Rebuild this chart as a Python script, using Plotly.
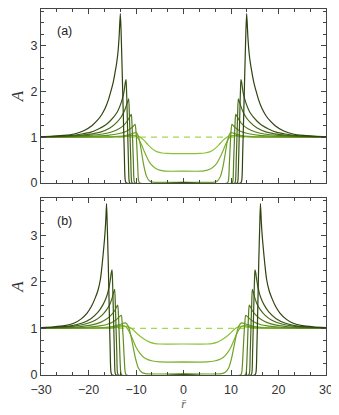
import plotly.graph_objects as go

# right half of each profile (r >= 0), mirrored to r < 0 when drawn
# panel (a)
a_r = [
    [0, 12.0, 12.25, 12.45, 12.7, 12.95, 13.15, 13.3, 13.55, 13.8, 14.1, 14.4, 14.8, 15.3, 15.8, 16.5, 17.3, 18.2, 19.3, 21.0, 23.0, 25.2, 28.0, 30],
    [0, 11.3, 11.45, 11.6, 11.75, 11.9, 12.0, 12.1, 12.25, 12.4, 12.6, 13.1, 14.0, 15.4, 16.5, 17.9, 19.5, 21.4, 24.0, 27.0, 30],
    [0, 10.8, 10.95, 11.1, 11.25, 11.4, 11.55, 11.75, 12.0, 12.5, 13.2, 14.0, 15.5, 17.5, 20.0, 23.0, 30],
    [0, 10.2, 10.4, 10.55, 10.7, 10.85, 11.0, 11.3, 11.8, 12.5, 13.5, 15.0, 17.0, 20.0, 24.0, 30],
    [0, 9.2, 9.45, 9.65, 9.85, 10.0, 10.2, 10.5, 11.0, 12.0, 13.5, 16.0, 20.0, 30],
    [0, 6.5, 7.2, 7.8, 8.3, 8.8, 9.2, 9.6, 10.0, 10.5, 11.3, 12.5, 14.5, 18.0, 30],
    [0, 4.0, 5.0, 6.0, 7.0, 7.7, 8.3, 8.9, 9.5, 10.0, 10.7, 11.5, 13.0, 16.0, 30],
    [0, 3.5, 4.5, 5.5, 6.5, 7.5, 8.3, 9.1, 9.8, 10.6, 11.5, 13.0, 16.0, 30],
]
a_A = [
    [0, 0, 0.05, 0.6, 1.6, 2.6, 3.35, 3.70, 3.2, 2.85, 2.6, 2.42, 2.2, 2.0, 1.82, 1.63, 1.48, 1.36, 1.25, 1.14, 1.07, 1.04, 1.02, 1.015],
    [0, 0, 0.05, 0.5, 1.1, 1.7, 2.05, 2.26, 2.2, 2.08, 1.95, 1.76, 1.54, 1.36, 1.26, 1.18, 1.11, 1.07, 1.035, 1.02, 1.012],
    [0, 0, 0.05, 0.5, 1.0, 1.5, 1.84, 1.78, 1.7, 1.56, 1.43, 1.33, 1.2, 1.11, 1.06, 1.03, 1.01],
    [0, 0, 0.05, 0.45, 0.9, 1.3, 1.5, 1.45, 1.36, 1.27, 1.19, 1.12, 1.07, 1.04, 1.02, 1.01],
    [0, 0, 0.05, 0.4, 0.85, 1.12, 1.28, 1.25, 1.2, 1.13, 1.08, 1.04, 1.02, 1.005],
    [0.02, 0.02, 0.05, 0.15, 0.35, 0.65, 0.9, 1.05, 1.1, 1.09, 1.06, 1.03, 1.015, 1.005, 1.0],
    [0.26, 0.26, 0.28, 0.33, 0.43, 0.56, 0.7, 0.85, 0.97, 1.02, 1.04, 1.03, 1.015, 1.005, 1.0],
    [0.64, 0.645, 0.655, 0.68, 0.74, 0.84, 0.93, 1.0, 1.03, 1.035, 1.025, 1.01, 1.0, 1.0],
]

# panel (b)
b_r = [
    [0, 15.0, 15.25, 15.45, 15.65, 15.85, 16.05, 16.2, 16.4, 16.6, 16.8, 17.1, 17.5, 18.0, 18.6, 19.4, 20.3, 21.6, 23.1, 25.0, 27.3, 30],
    [0, 14.2, 14.4, 14.55, 14.7, 14.85, 14.95, 15.05, 15.2, 15.4, 15.7, 16.2, 17.0, 18.0, 19.5, 21.5, 24.0, 27.0, 30],
    [0, 13.7, 13.9, 14.05, 14.2, 14.35, 14.5, 14.7, 15.0, 15.5, 16.2, 17.2, 18.5, 20.5, 23.0, 26.0, 30],
    [0, 13.0, 13.2, 13.4, 13.55, 13.7, 13.85, 14.1, 14.5, 15.2, 16.2, 17.5, 19.5, 22.0, 26.0, 30],
    [0, 12.0, 12.25, 12.5, 12.7, 12.9, 13.1, 13.4, 13.9, 14.7, 16.0, 18.0, 21.0, 30],
    [0, 8.0, 8.8, 9.5, 10.1, 10.7, 11.2, 11.7, 12.2, 12.7, 13.5, 15.0, 17.0, 20.0, 30],
    [0, 5.0, 6.5, 7.5, 8.4, 9.2, 9.9, 10.6, 11.2, 11.7, 12.2, 12.8, 13.5, 15.0, 18.0, 30],
    [0, 5.0, 6.0, 7.0, 8.0, 9.0, 9.8, 10.5, 11.1, 11.8, 12.6, 13.5, 15.0, 18.0, 30],
]
b_A = [
    [0, 0, 0.05, 0.6, 1.5, 2.45, 3.2, 3.68, 3.25, 2.95, 2.72, 2.4, 2.05, 1.82, 1.65, 1.47, 1.33, 1.2, 1.11, 1.06, 1.035, 1.02],
    [0, 0, 0.05, 0.5, 1.1, 1.7, 2.05, 2.26, 2.2, 2.05, 1.87, 1.68, 1.5, 1.35, 1.21, 1.11, 1.05, 1.025, 1.015],
    [0, 0, 0.05, 0.5, 1.0, 1.5, 1.84, 1.78, 1.66, 1.52, 1.4, 1.28, 1.18, 1.1, 1.05, 1.025, 1.01],
    [0, 0, 0.05, 0.45, 0.9, 1.3, 1.5, 1.46, 1.38, 1.29, 1.2, 1.13, 1.07, 1.035, 1.015, 1.01],
    [0, 0, 0.05, 0.4, 0.8, 1.1, 1.28, 1.26, 1.21, 1.15, 1.09, 1.05, 1.02, 1.005],
    [0.03, 0.03, 0.06, 0.15, 0.35, 0.65, 0.9, 1.06, 1.12, 1.11, 1.08, 1.04, 1.02, 1.01, 1.0],
    [0.28, 0.28, 0.3, 0.33, 0.38, 0.47, 0.58, 0.74, 0.88, 0.98, 1.04, 1.06, 1.05, 1.02, 1.005, 1.0],
    [0.665, 0.665, 0.675, 0.7, 0.75, 0.82, 0.89, 0.96, 1.01, 1.04, 1.04, 1.025, 1.01, 1.0, 1.0],
]

ref_x = [-30, 30]
ref_A = [1, 1]

x_ticks = [-30, -20, -10, 0, 10, 20, 30]
y_ticks = [0, 1, 2, 3]

# dark -> light
colors = ['#2e420e', '#3a5513', '#476818', '#547b1e', '#618e23', '#6fa129', '#7db22f', '#8bc236']
dash_color = '#a6d655'


def mirror(r, a):
    return [-v for v in r[::-1]] + r, a[::-1] + a


fig = go.Figure()
for xa, ya, rs, As in [('x', 'y', a_r, a_A), ('x2', 'y2', b_r, b_A)]:
    fig.add_trace(go.Scatter(x=ref_x, y=ref_A, mode='lines', xaxis=xa, yaxis=ya,
                             line=dict(color=dash_color, width=1.3, dash='6px,5px'),
                             showlegend=False, hoverinfo='skip'))
    for i in reversed(range(len(rs))):
        x, y = mirror(rs[i], As[i])
        fig.add_trace(go.Scatter(x=x, y=y, mode='lines', xaxis=xa, yaxis=ya,
                                 line=dict(color=colors[i], width=1.2, shape='spline', smoothing=0.7),
                                 showlegend=False, hoverinfo='skip'))

frame = dict(showline=True, linecolor='#444', linewidth=1, mirror='allticks',
             ticks='inside', ticklen=5, tickcolor='#444', tickwidth=1,
             showgrid=False, zeroline=False,
             tickfont=dict(family='Liberation Sans, Arial', size=12.5, color='#333'))
xframe = dict(frame, range=[-30, 30], tickvals=x_ticks,
              minor=dict(dtick=10 / 3, tick0=0, ticks='inside', ticklen=3, tickcolor='#444'))
yframe = dict(frame, range=[0, 3.8], tickvals=y_ticks,
              minor=dict(dtick=0.25, tick0=0, ticks='inside', ticklen=3, tickcolor='#444'),
              title=dict(text='<i>A</i>', font=dict(family='Liberation Serif', size=17, color='#333'),
                         standoff=6))

# the page body adds 8px, so margins are set 8px smaller on the top/left
fig.update_layout(
    width=339, height=415,
    margin=dict(l=33, r=21, t=1, b=48),
    plot_bgcolor='white', paper_bgcolor='white',
    xaxis=dict(xframe, domain=[0, 1], anchor='y', showticklabels=False),
    yaxis=dict(yframe, domain=[0.5246, 1], anchor='x'),
    xaxis2=dict(xframe, domain=[0, 1], anchor='y2', ticklabelstandoff=3,
                title=dict(text='<i>r\u0304</i>', font=dict(family='Liberation Serif', size=12, color='#555'),
                           standoff=1)),
    yaxis2=dict(yframe, domain=[0, 0.4836], anchor='x2'),
    annotations=[
        dict(text='(a)', x=0.048, y=0.965, xref='paper', yref='paper', xanchor='left', yanchor='top',
             showarrow=False, font=dict(family='Liberation Sans, Arial', size=12.5, color='#222')),
        dict(text='(b)', x=0.048, y=0.445, xref='paper', yref='paper', xanchor='left', yanchor='top',
             showarrow=False, font=dict(family='Liberation Sans, Arial', size=12.5, color='#222')),
    ],
)

fig.write_html("out.html")
